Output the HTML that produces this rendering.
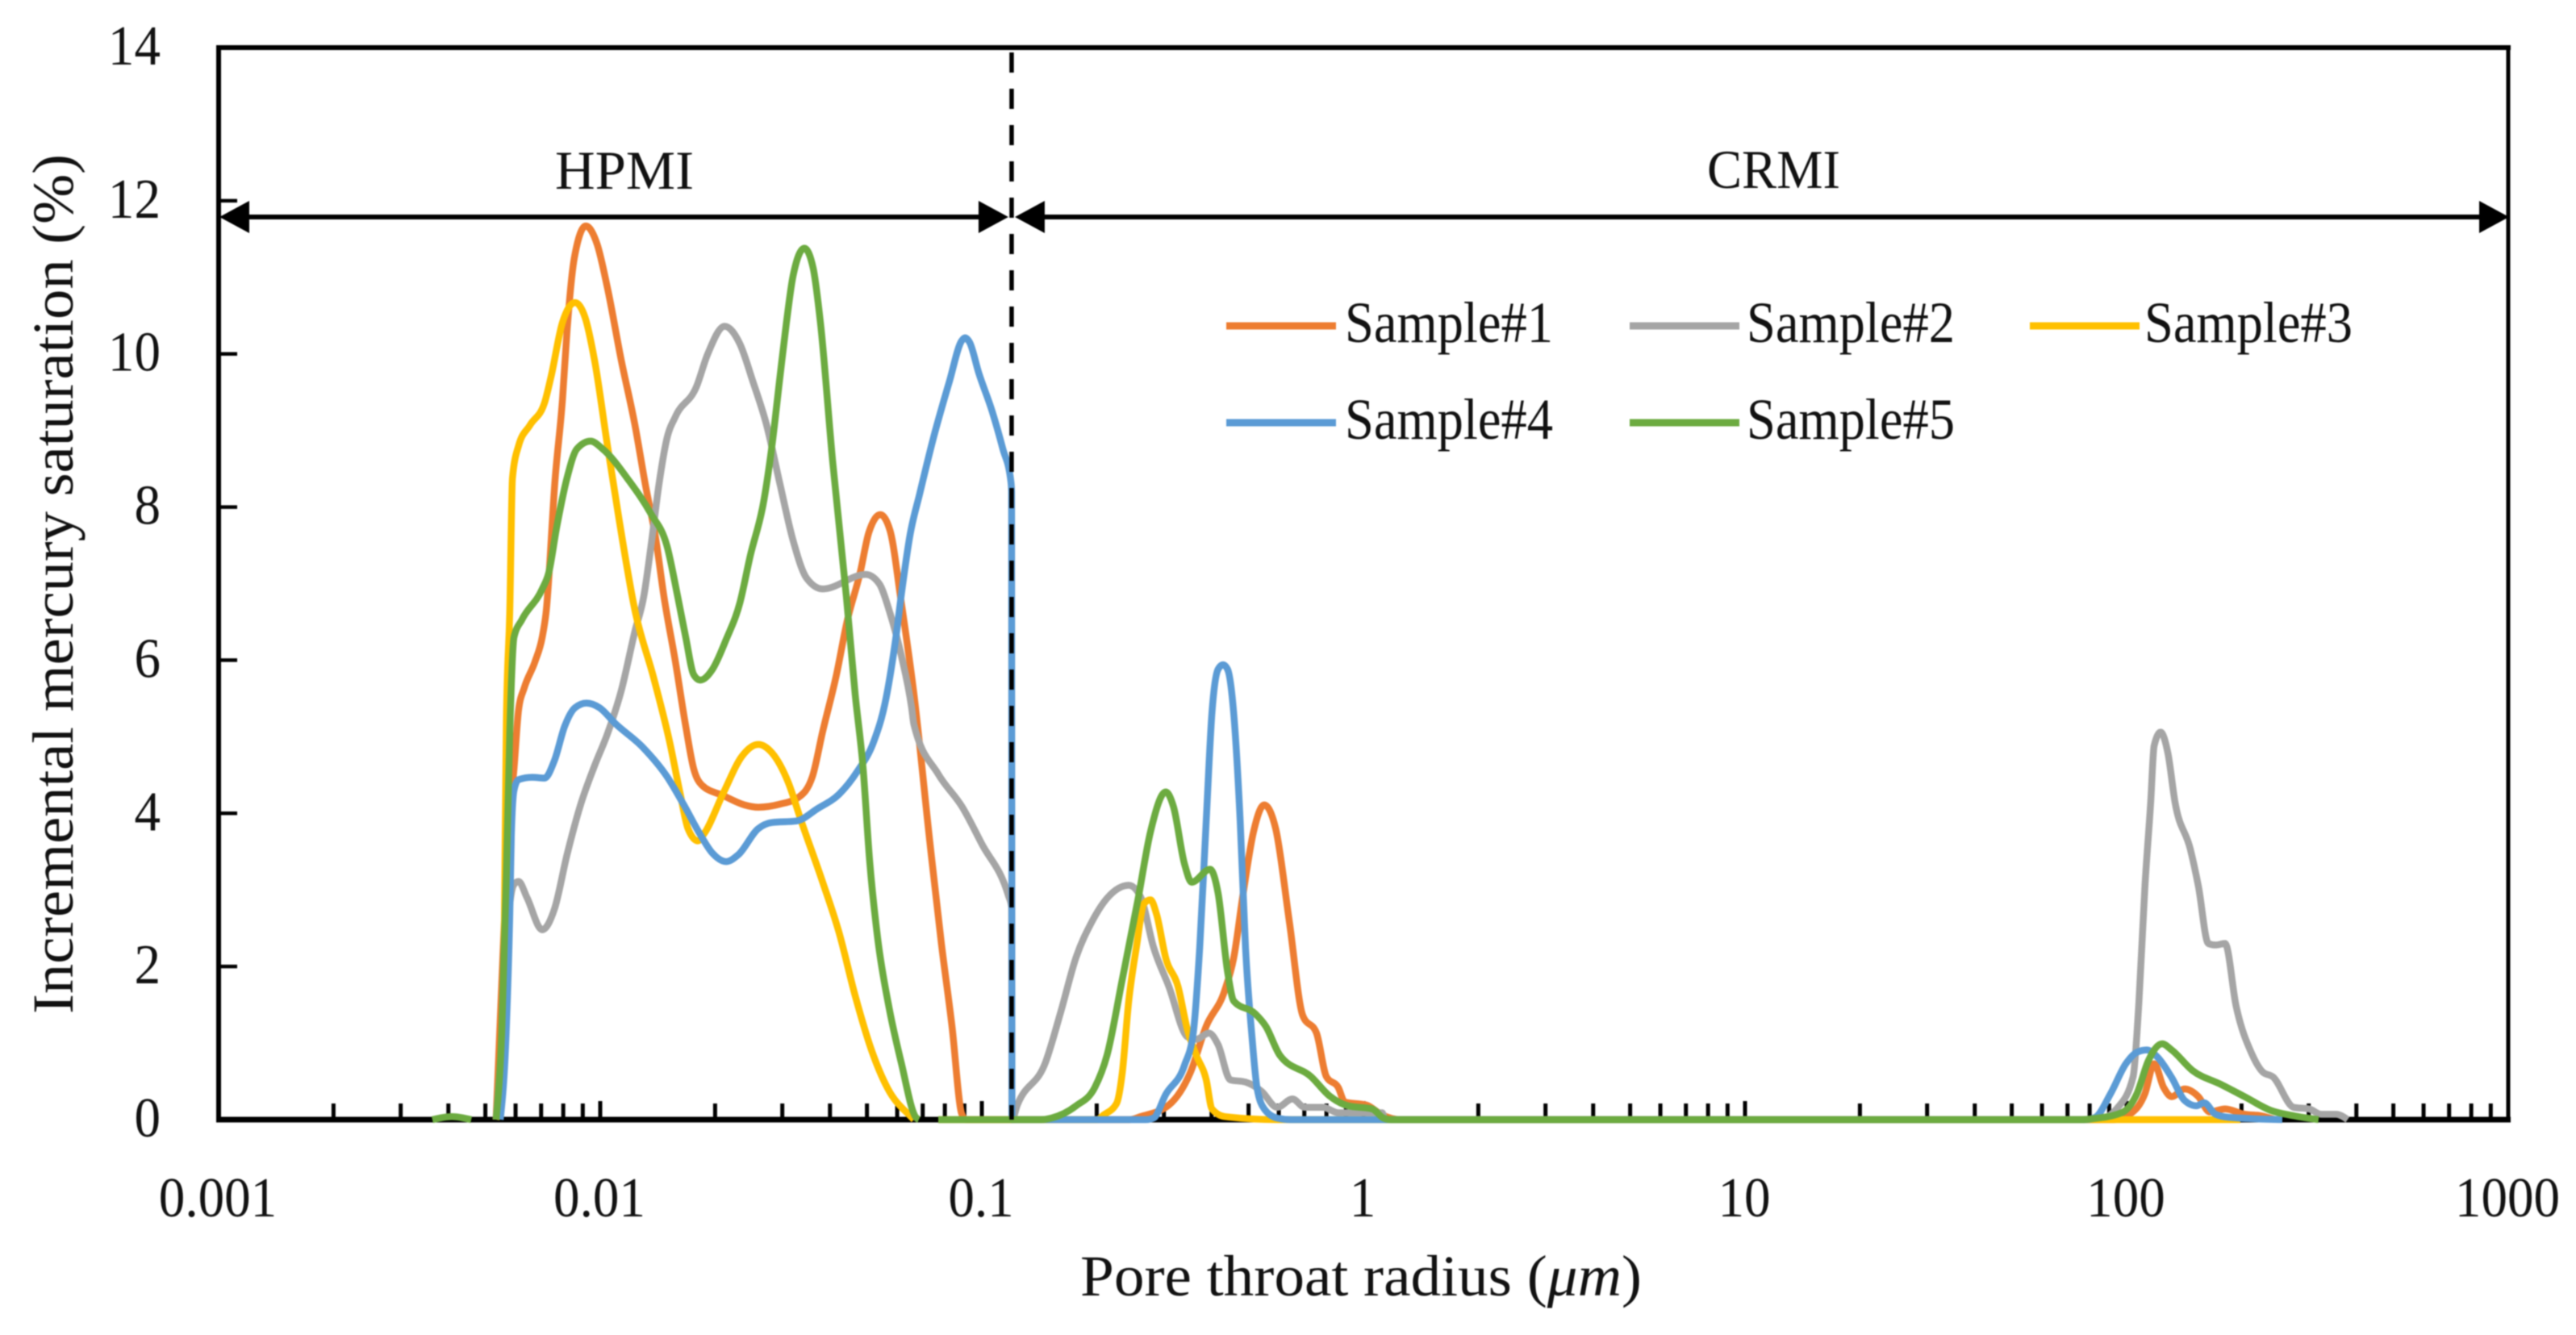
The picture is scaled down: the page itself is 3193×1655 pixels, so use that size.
<!DOCTYPE html>
<html lang="en">
<head>
<meta charset="utf-8">
<title>Incremental mercury saturation vs pore throat radius</title>
<style>
  html, body { margin: 0; padding: 0; background: #fff; }
  #chart { display: block; width: 3193px; height: 1655px; filter: blur(0.7px); }
  text { font-family: "Liberation Serif", serif; fill: #111; }
</style>
</head>
<body>
<svg id="chart" xmlns="http://www.w3.org/2000/svg" width="3193" height="1655" viewBox="0 0 3193 1655">
  <rect x="0" y="0" width="3193" height="1655" fill="#fff"/>
  <g id="axes"></g>
  <g id="series"></g>
  <g id="overlay"></g>
  <g id="labels"></g>
  <g id="legend"></g>
  <text transform="translate(90,1257) rotate(-90)" font-size="72" textLength="1066" lengthAdjust="spacingAndGlyphs">Incremental mercury saturation (%)</text>
  <text x="1339" y="1606" font-size="72" textLength="696" lengthAdjust="spacingAndGlyphs">Pore throat radius (<tspan font-style="italic">μm</tspan>)</text>
  <text x="688" y="234" font-size="68" textLength="172" lengthAdjust="spacingAndGlyphs">HPMI</text>
  <text x="2116" y="233" font-size="68" textLength="165" lengthAdjust="spacingAndGlyphs">CRMI</text>
</svg>
<script>
// ---- chart data ----
const yTickValues = [0, 2, 4, 6, 8, 10, 12, 14];
const xDecadeLabels = ["0.001", "0.01", "0.1", "1", "10", "100", "1000"];
const xDecadeValues = [0.001, 0.01, 0.1, 1, 10, 100, 1000];
const xMinorMultipliers = [2, 3, 4, 5, 6, 7, 8, 9];
const boundaryRadius = 0.1197;

const sampleNames = ["Sample#1", "Sample#2", "Sample#3", "Sample#4", "Sample#5"];
const sampleColors = ["#ED7D31", "#A5A5A5", "#FFC000", "#5B9BD5", "#6CAB40"];

// log10 of pore throat radius (µm) and incremental saturation (%); null = gap in the line
const sample1LogR = [-2.273,-2.252,-2.233,-2.226,-2.214,-2.199,-2.171,-2.152,-2.142,-2.118,-2.099,-2.087,-2.068,-2.038,-2.008,-1.981,-1.945,-1.909,-1.882,-1.854,-1.833,-1.803,-1.776,-1.755,-1.734,-1.677,-1.622,-1.586,-1.529,-1.480,-1.444,-1.417,-1.381,-1.353,-1.319,-1.296,-1.266,-1.241,-1.211,-1.178,-1.135,-1.106,-1.078,-1.053,-1.042,-0.613,-0.584,-0.510,-0.454,-0.412,-0.364,-0.340,-0.315,-0.288,-0.260,-0.230,-0.194,-0.159,-0.123,-0.097,-0.066,-0.049,0.008,0.049,0.097,1.966,2.008,2.048,2.072,2.097,2.118,2.152,2.188,2.218,2.258,2.309,2.353,2.389];
const sample1Sat  = [0,2.5,4.2,4.58,5.35,5.64,5.98,6.3,6.62,8.38,9.4,10.3,11.25,11.67,11.43,10.86,9.92,9.07,8.3,7.57,6.83,5.98,5.14,4.58,4.37,4.23,4.11,4.08,4.12,4.21,4.48,5.07,5.81,6.51,7.14,7.67,7.9,7.7,6.75,5.56,3.57,2.3,1.21,0.08,0,0,0.04,0.19,0.61,1.22,1.68,2.11,2.96,3.76,4.11,3.8,2.58,1.36,1.13,0.56,0.42,0.23,0.19,0.06,0,0,0.07,0.34,0.73,0.42,0.3,0.4,0.3,0.1,0.14,0.07,0.05,0];

const sample2LogR = [-2.273,-2.258,-2.241,-2.226,-2.214,-2.192,-2.152,-2.120,-2.087,-2.051,-2.015,-1.981,-1.945,-1.909,-1.886,-1.867,-1.846,-1.825,-1.803,-1.748,-1.719,-1.674,-1.634,-1.600,-1.564,-1.529,-1.495,-1.459,-1.417,-1.304,-1.269,-1.241,-1.211,-1.184,-1.178,-1.114,-1.051,-1.000,-0.930,-0.922,-0.921,-0.907,-0.833,-0.793,-0.753,-0.712,-0.672,-0.615,-0.584,-0.550,-0.510,-0.461,-0.438,-0.405,-0.381,-0.349,-0.309,-0.267,-0.226,-0.186,-0.154,-0.106,-0.066,0.049,0.057,1.924,1.977,2.017,2.032,2.048,2.063,2.072,2.089,2.108,2.127,2.167,2.188,2.214,2.233,2.258,2.287,2.328,2.357,2.383,2.438,2.478,2.510,2.549,2.579];
const sample2Sat  = [0,1.0,2.6,3.07,3.11,2.9,2.48,2.75,3.46,4.12,4.62,5.04,5.6,6.38,6.83,7.49,8.3,8.9,9.18,9.57,9.99,10.36,10.13,9.64,9.07,8.3,7.57,7.07,6.93,7.12,7.0,6.62,6.06,5.38,5.16,4.51,4.08,3.6,2.92,2.78,0,0.19,0.75,1.41,2.12,2.58,2.89,3.06,2.91,2.25,1.74,1.08,1.05,1.13,0.98,0.52,0.49,0.37,0.16,0.27,0.16,0.16,0.09,0.09,0,0,0.16,0.56,1.52,3.05,4.14,4.88,5.06,4.79,4.14,3.53,3.05,2.3,2.28,2.3,1.48,0.86,0.62,0.56,0.16,0.14,0.07,0.07,0];

const sample3LogR = [-2.273,-2.260,-2.252,-2.246,-2.237,-2.230,-2.214,-2.184,-2.146,-2.129,-2.099,-2.066,-2.040,-2.015,-1.981,-1.951,-1.909,-1.860,-1.818,-1.791,-1.770,-1.744,-1.727,-1.677,-1.628,-1.586,-1.550,-1.507,-1.474,-1.417,-1.374,-1.332,-1.290,-1.247,-1.184,-1.178,null,-1.114,-0.698,-0.681,-0.647,-0.632,-0.615,-0.595,-0.575,-0.558,-0.542,-0.518,-0.486,-0.461,-0.438,-0.412,-0.397,-0.364,-0.226,2.298];
const sample3Sat  = [0,0.65,2.18,5.2,6.65,8.38,8.8,9.07,9.36,9.7,10.41,10.67,10.48,9.92,8.8,7.85,6.65,5.77,4.93,4.27,3.8,3.64,3.74,4.27,4.75,4.9,4.79,4.4,3.91,3.1,2.44,1.62,0.92,0.41,0.03,0,null,0,0,0.06,0.21,0.61,1.55,2.25,2.82,2.87,2.68,2.11,1.74,1.17,0.84,0.52,0.14,0.04,0,0];

const sample4LogR = [-2.262,-2.246,-2.237,-2.233,-2.226,-2.214,-2.178,-2.146,-2.120,-2.093,-2.066,-2.036,-2.002,-1.960,-1.888,-1.825,-1.782,-1.740,-1.706,-1.670,-1.638,-1.586,-1.550,-1.486,-1.431,-1.374,-1.326,-1.283,-1.254,-1.226,-1.209,-1.188,-1.163,-1.127,-1.085,-1.053,-1.044,-1.032,-1.008,-0.973,-0.945,-0.924,-0.922,-0.921,-0.570,-0.550,-0.518,-0.469,-0.446,-0.429,-0.412,-0.397,-0.381,-0.368,-0.356,-0.340,-0.323,-0.309,-0.292,-0.279,-0.260,-0.226,-0.190,1.892,1.918,1.958,1.998,2.027,2.053,2.082,2.118,2.152,2.183,2.203,2.233,2.268,2.408];
const sample4Sat  = [0,1.2,2.69,3.7,4.3,4.44,4.47,4.46,4.69,5.14,5.38,5.44,5.38,5.17,4.86,4.48,4.12,3.74,3.48,3.37,3.46,3.8,3.88,3.9,4.06,4.25,4.55,4.94,5.43,6.27,6.93,7.64,8.17,8.9,9.64,10.17,10.21,10.15,9.75,9.25,8.76,8.34,8.2,0,0,0.02,0.33,0.71,1.13,2.25,3.9,5.31,5.88,5.94,5.88,5.31,3.9,2.25,1.08,0.42,0.14,0.02,0,0,0.03,0.34,0.73,0.88,0.91,0.81,0.55,0.25,0.18,0.22,0.07,0.03,0];

const sample5LogR = [-2.440,-2.389,-2.338,null,-2.273,-2.258,-2.246,-2.237,-2.226,-2.205,-2.152,-2.135,-2.114,-2.087,-2.061,-2.025,-1.994,-1.924,-1.867,-1.825,-1.797,-1.776,-1.755,-1.738,-1.706,-1.670,-1.634,-1.607,-1.571,-1.550,-1.529,-1.512,-1.495,-1.465,-1.442,-1.423,-1.391,-1.355,-1.332,-1.311,-1.294,-1.273,-1.243,-1.211,-1.173,-1.165,null,-1.114,-0.846,-0.818,-0.753,-0.704,-0.672,-0.632,-0.591,-0.558,-0.518,-0.498,-0.469,-0.450,-0.402,-0.381,-0.356,-0.340,-0.283,-0.256,-0.219,-0.137,-0.089,-0.040,0.023,0.053,0.074,1.882,1.907,1.987,2.027,2.057,2.093,2.118,2.173,2.247,2.309,2.378,2.438,2.503];
const sample5Sat  = [0,0.04,0,null,0,1.16,3.19,5.07,6.3,6.53,6.93,7.14,7.74,8.38,8.76,8.86,8.76,8.34,7.91,7.49,6.83,6.3,5.81,5.74,5.88,6.27,6.75,7.36,8.09,8.8,9.7,10.41,11.01,11.38,11.12,10.41,8.6,6.83,5.56,4.58,3.38,2.37,1.46,0.74,0.03,0,null,0,0,0.02,0.18,0.42,0.84,1.83,2.87,3.76,4.28,4.09,3.34,3.1,3.27,2.96,1.93,1.55,1.38,1.22,0.84,0.56,0.31,0.18,0.14,0.02,0,0,0.01,0.09,0.34,0.77,0.99,0.91,0.64,0.46,0.3,0.12,0.05,0];

const sampleLogR = [sample1LogR, sample2LogR, sample3LogR, sample4LogR, sample5LogR];
const sampleSat = [sample1Sat, sample2Sat, sample3Sat, sample4Sat, sample5Sat];

// ---- layout and axis functions ----
const SVG_NS = "http://www.w3.org/2000/svg";
const plot = { left: 271, right: 3109, top: 59, bottom: 1388 };
const xMinLog = -3, xMaxLog = 3, yMax = 14;
function xFromLog(l) { return plot.left + (l - xMinLog) / (xMaxLog - xMinLog) * (plot.right - plot.left); }
function xScale(v) { return xFromLog(Math.log10(v)); }
function yScale(v) { return plot.bottom - v / yMax * (plot.bottom - plot.top); }

function make(tag, attrs, parent) {
  const el = document.createElementNS(SVG_NS, tag);
  for (const k in attrs) el.setAttribute(k, attrs[k]);
  parent.appendChild(el);
  return el;
}

// Monotone cubic path through points, so steep pore-size rises never overshoot
function curvePath(pts) {
  const n = pts.length;
  if (n < 2) return "";
  const m = new Array(n);
  const sgn = v => (v < 0 ? -1 : v > 0 ? 1 : 0);
  for (let i = 1; i < n - 1; i++) {
    const h0 = pts[i][0] - pts[i - 1][0], h1 = pts[i + 1][0] - pts[i][0];
    const s0 = (pts[i][1] - pts[i - 1][1]) / h0, s1 = (pts[i + 1][1] - pts[i][1]) / h1;
    const p = (s0 * h1 + s1 * h0) / (h0 + h1);
    m[i] = (sgn(s0) + sgn(s1)) * Math.min(Math.abs(s0), Math.abs(s1), 0.5 * Math.abs(p));
  }
  const firstSlope = (pts[1][1] - pts[0][1]) / (pts[1][0] - pts[0][0]);
  const lastSlope = (pts[n - 1][1] - pts[n - 2][1]) / (pts[n - 1][0] - pts[n - 2][0]);
  m[0] = n > 2 ? (3 * firstSlope - m[1]) / 2 : firstSlope;
  m[n - 1] = n > 2 ? (3 * lastSlope - m[n - 2]) / 2 : lastSlope;
  let d = "M" + pts[0][0].toFixed(2) + " " + pts[0][1].toFixed(2);
  for (let i = 0; i < n - 1; i++) {
    const dx = (pts[i + 1][0] - pts[i][0]) / 3;
    d += "C" + (pts[i][0] + dx).toFixed(2) + " " + (pts[i][1] + m[i] * dx).toFixed(2) + " " +
      (pts[i + 1][0] - dx).toFixed(2) + " " + (pts[i + 1][1] - m[i + 1] * dx).toFixed(2) + " " +
      pts[i + 1][0].toFixed(2) + " " + pts[i + 1][1].toFixed(2);
  }
  return d;
}

const axesG = document.getElementById("axes");
const seriesG = document.getElementById("series");
const overlayG = document.getElementById("overlay");
const labelsG = document.getElementById("labels");
const legendG = document.getElementById("legend");

// plot frame
const frameTop = make("line", { x1: plot.left - 3, x2: plot.right + 3, y1: plot.top, y2: plot.top, stroke: "#000", "stroke-width": 6 }, axesG);


const frameRight = make("line", { x1: plot.right, x2: plot.right, y1: plot.top, y2: plot.bottom, stroke: "#000", "stroke-width": 5 }, axesG);


const yAxisLine = make("line", { x1: plot.left, x2: plot.left, y1: plot.top, y2: plot.bottom, stroke: "#000", "stroke-width": 6 }, axesG);


const xAxisLine = make("line", { x1: plot.left - 3, x2: plot.right + 3, y1: plot.bottom, y2: plot.bottom, stroke: "#000", "stroke-width": 7 }, axesG);



// y ticks and labels
yTickValues.forEach(function (v) {
  const y = yScale(v);
  if (v > 0 && v < yMax) {
    const tick = make("line", { x1: plot.left, x2: plot.left + 23, y1: y, y2: y, stroke: "#000", "stroke-width": 4.5 }, axesG);
    
    
  }
  const label = make("text", { transform: "translate(199," + (y + 21) + ") scale(0.93,1)", "font-size": 70, "text-anchor": "end" }, labelsG);
  label.textContent = String(v);
  
  
});

// x ticks and labels (log axis)
xDecadeValues.forEach(function (v, i) {
  const x = xScale(v);
  if (i > 0 && i < xDecadeValues.length - 1) {
    const major = make("line", { x1: x, x2: x, y1: plot.bottom - 23, y2: plot.bottom, stroke: "#000", "stroke-width": 5 }, axesG);
    
    
  }
  if (i < xDecadeValues.length - 1) {
    xMinorMultipliers.forEach(function (k) {
      const mx = xScale(v * k);
      const minor = make("line", { x1: mx, x2: mx, y1: plot.bottom - 20, y2: plot.bottom, stroke: "#000", "stroke-width": 5 }, axesG);
      
      
    });
  }
  const label = make("text", { transform: "translate(" + (x - 1) + ",1508) scale(0.93,1)", "font-size": 70, "text-anchor": "middle" }, labelsG);
  label.textContent = xDecadeLabels[i];
  
  
});

// series, splitting at null gaps
sampleNames.forEach(function (name, s) {
  const logs = sampleLogR[s], sats = sampleSat[s];
  let run = [], d = "";
  for (let i = 0; i <= logs.length; i++) {
    if (i === logs.length || logs[i] === null) {
      d += curvePath(run);
      run = [];
    } else {
      run.push([xFromLog(logs[i]), yScale(sats[i])]);
    }
  }
  const line = make("path", { d: d, fill: "none", stroke: sampleColors[s], "stroke-width": 8.5, "stroke-linejoin": "round", "stroke-linecap": "butt" }, seriesG);
  
  
});

// HPMI / CRMI boundary and arrows
const bx = xScale(boundaryRadius);
const arrowY = 269;
const boundary = make("line", { x1: bx, x2: bx, y1: plot.top + 6, y2: plot.bottom, stroke: "#000", "stroke-width": 5.5, "stroke-dasharray": "25 20" }, overlayG);



const hpmiLine = make("line", { x1: plot.left + 10, x2: bx - 10, y1: arrowY, y2: arrowY, stroke: "#000", "stroke-width": 6 }, overlayG);


const crmiLine = make("line", { x1: bx + 10, x2: plot.right - 10, y1: arrowY, y2: arrowY, stroke: "#000", "stroke-width": 6 }, overlayG);



function arrowHead(tip, dir, name) {
  const head = make("polygon", { points: tip + "," + arrowY + " " + (tip + dir * 37) + "," + (arrowY - 20) + " " + (tip + dir * 37) + "," + (arrowY + 20), fill: "#000" }, overlayG);
  
  
}
arrowHead(plot.left + 1, 1, "hpmi-arrowhead-left");
arrowHead(bx - 4, -1, "hpmi-arrowhead-right");
arrowHead(bx + 4, 1, "crmi-arrowhead-left");
arrowHead(plot.right + 1, -1, "crmi-arrowhead-right");

// legend
const legendCols = [[1520, 1667], [2020, 2165], [2516, 2658]];
const legendRows = [404, 524];
sampleNames.forEach(function (name, s) {
  const col = legendCols[s % 3], y = legendRows[Math.floor(s / 3)];
  const entry = make("g", {}, legendG);
  
  
  const swatch = make("line", { x1: col[0], x2: col[0] + 136, y1: y, y2: y, stroke: sampleColors[s], "stroke-width": 9 }, entry);
  
  
  const label = make("text", { x: col[1], y: y + 20, "font-size": 72, textLength: 258, lengthAdjust: "spacingAndGlyphs" }, entry);
  label.textContent = name;
  
  
});
</script>
</body>
</html>
